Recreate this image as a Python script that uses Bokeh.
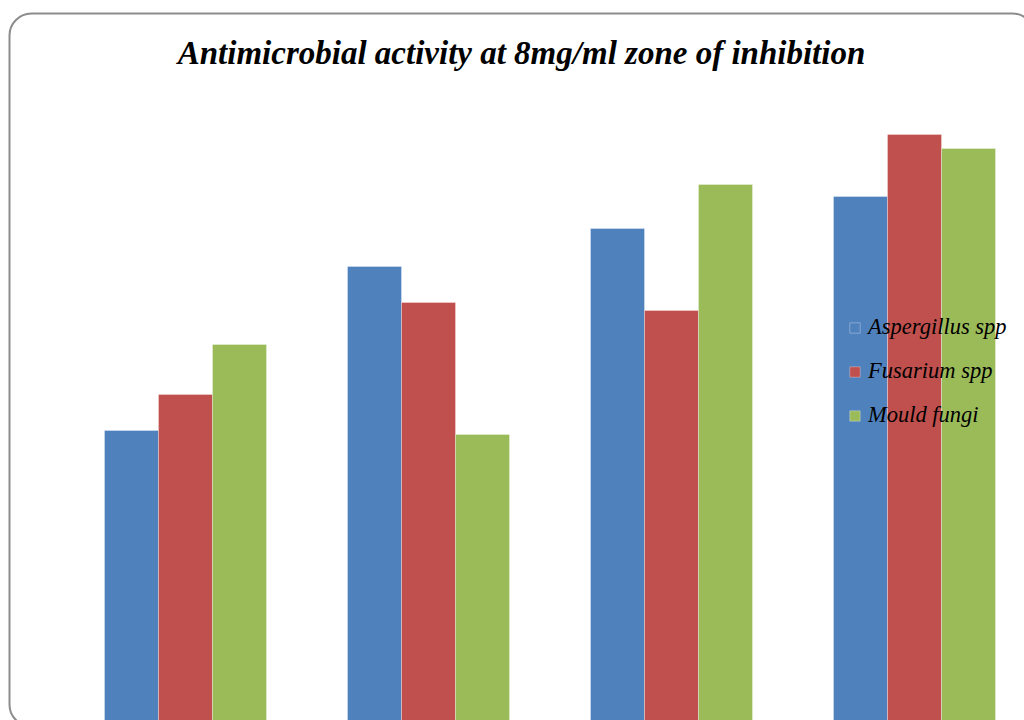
from bokeh.plotting import figure
from bokeh.models import Range1d, Legend, LegendItem
from bokeh.core.properties import value
from bokeh.embed import file_html
from bokeh.resources import INLINE
import numpy as np

# ---- data (baseline is cropped away) ----
title_text = "Antimicrobial activity at 8mg/ml zone of inhibition"
groups = ["Sample 1", "Sample 2", "Sample 3", "Sample 4"]
series_names = ["Aspergillus spp", "Fusarium spp", "Mould fungi"]
aspergillus = [21.2, 29.4, 31.3, 32.9]
fusarium = [23.0, 27.6, 27.2, 36.0]
mould = [25.5, 21.0, 33.5, 35.3]
colors = ["#4F81BD", "#C0504D", "#9BBB59"]

W, H = 1024, 720
p = figure(width=W, height=H, output_backend="svg", toolbar_location=None,
           x_axis_location=None, y_axis_location=None, min_border=0,
           x_range=Range1d(-185 / 243, (W - 185) / 243),
           y_range=Range1d(6.7, 42.7))
p.outline_line_color = None
p.xgrid.visible = False
p.ygrid.visible = False
p.background_fill_color = "white"
p.border_fill_color = "white"
p.extra_x_ranges = {"px": Range1d(0, W)}
p.extra_y_ranges = {"px": Range1d(0, H)}

# rounded frame around the chart area
p.quad(left=[9], right=[1034], top=[H - 13], bottom=[-6],
       x_range_name="px", y_range_name="px",
       fill_color=None, line_color="#8c8c8c", line_width=2, border_radius=22)

idx = np.arange(len(groups))
bw = 1 / 4.5
renderers = []
for k, (vals, col) in enumerate(zip([aspergillus, fusarium, mould], colors)):
    r = p.vbar(x=idx + (k - 1) * bw, top=vals, bottom=0, width=bw,
               fill_color=col, line_color="white", line_alpha=0.3, line_width=1)
    renderers.append(r)

p.text(x=[521], y=[H - 52], text=[title_text], x_range_name="px", y_range_name="px",
       text_font=value("Liberation Serif"), text_font_style="bold italic",
       text_font_size="33px", text_align="center", text_baseline="middle",
       text_color="black")

legend = Legend(items=[LegendItem(label=n, renderers=[r]) for n, r in zip(series_names, renderers)],
                location=(848, 292), orientation="vertical",
                glyph_width=13, glyph_height=13, label_height=20, spacing=18,
                label_standoff=7, padding=0, margin=0,
                background_fill_alpha=0, border_line_color=None,
                label_text_font="Liberation Serif", label_text_font_style="italic",
                label_text_font_size="22.5px", label_text_color="black")
p.add_layout(legend)

open("out.html", "w").write(file_html(p, INLINE))
